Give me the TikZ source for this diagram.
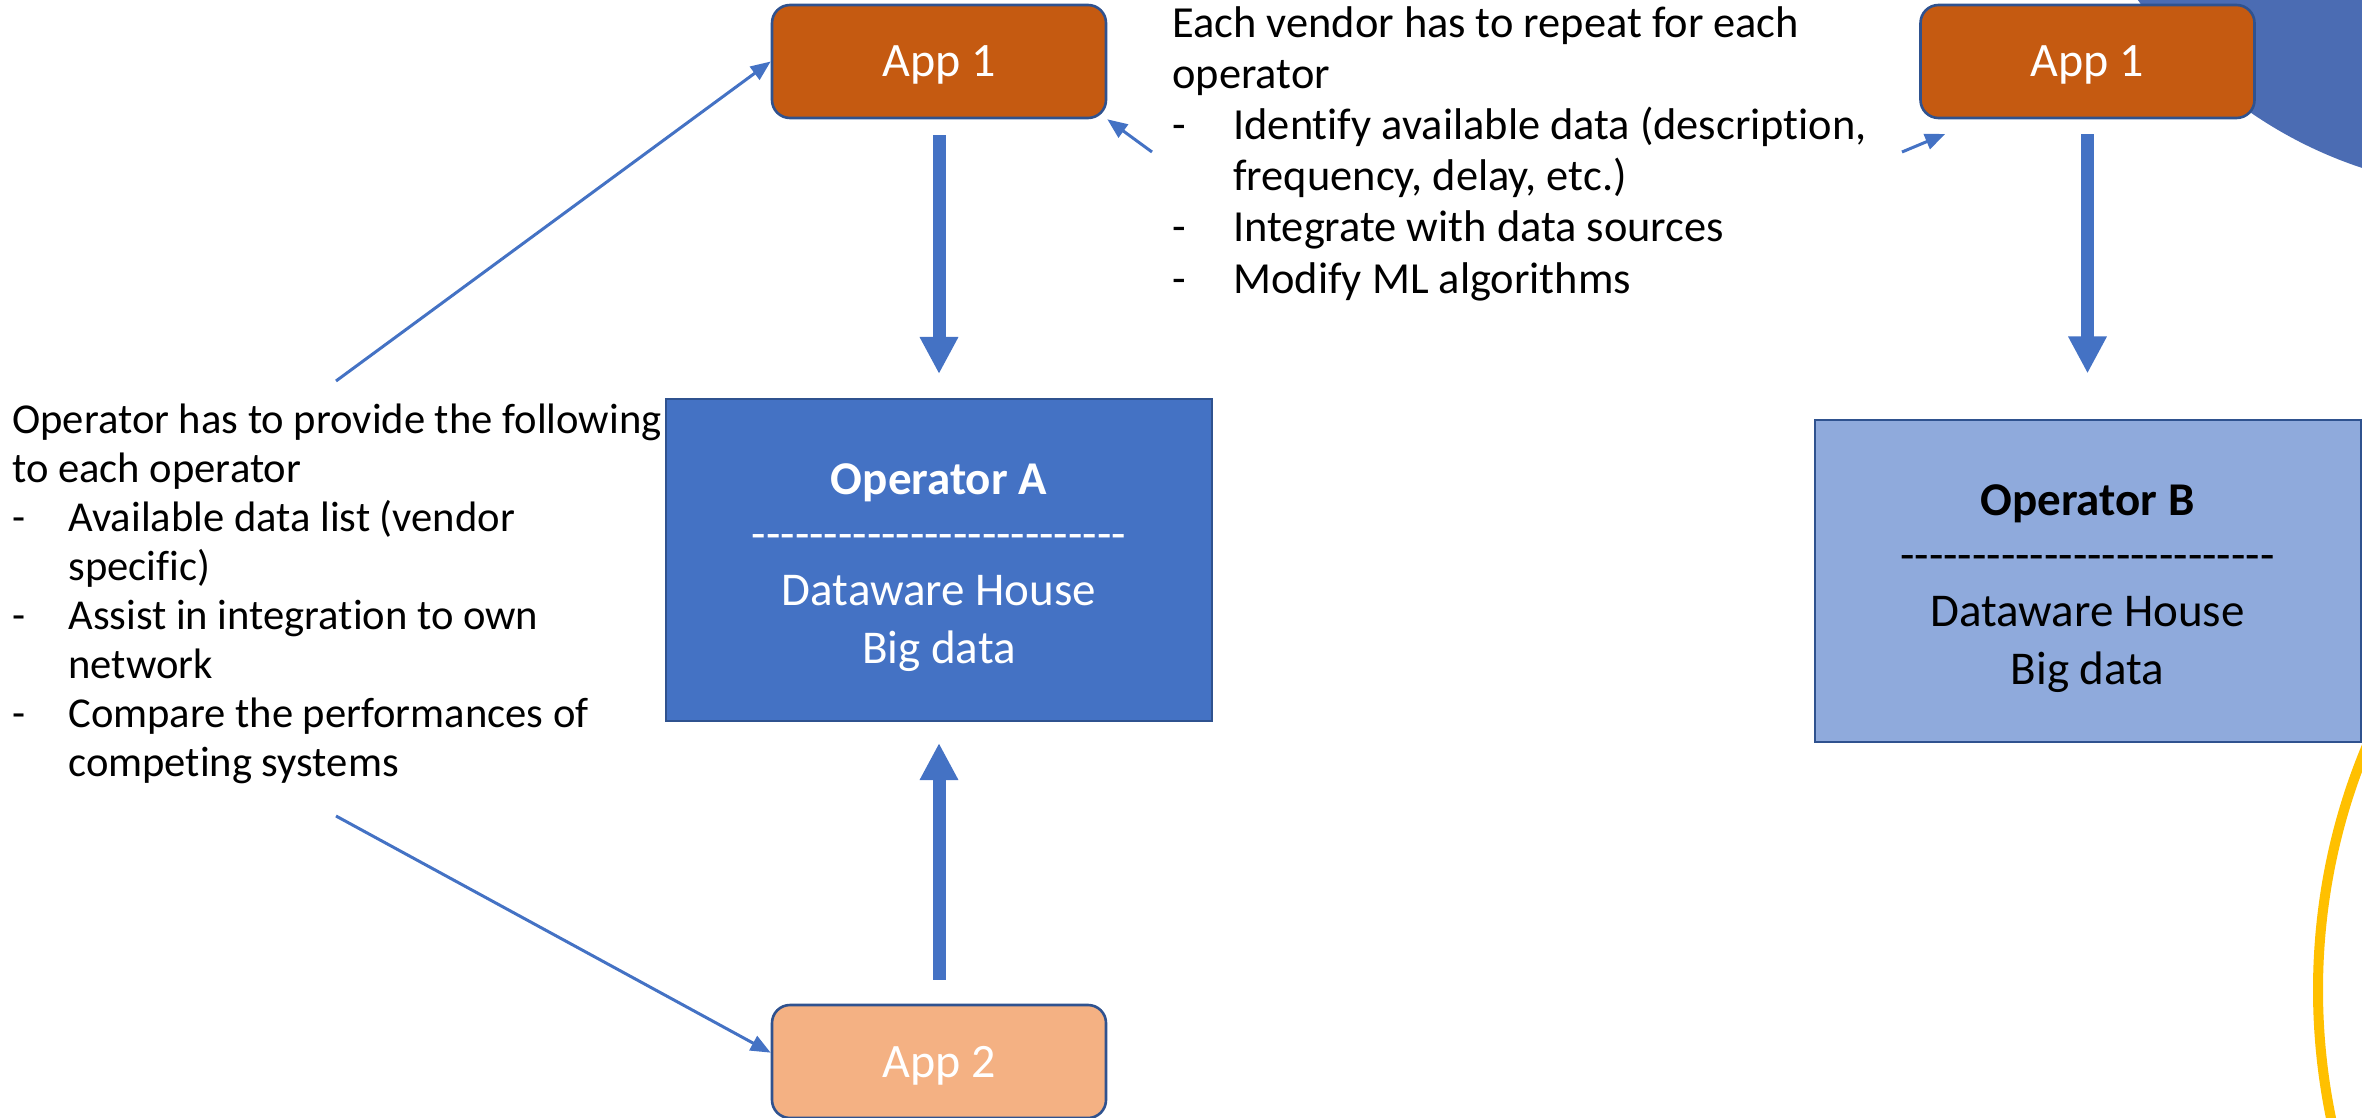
\documentclass[tikz,border=0pt]{standalone}
\usepackage{fontspec}
\setmainfont{Carlito}[Ligatures=NoCommon]
\usetikzlibrary{arrows.meta,calc}
\definecolor{appdark}{HTML}{C55A11}
\definecolor{applight}{HTML}{F4B183}
\definecolor{opblue}{HTML}{4472C4}
\definecolor{oplight}{HTML}{8FAADC}
\definecolor{edgeblue}{HTML}{2F528F}
\definecolor{circblue}{HTML}{4B6CB3}
\definecolor{gold}{HTML}{FFC000}
\newcommand{\dashrule}{\foreach\k in {1,...,26}{\mbox{-}}}
\begin{document}
\begin{tikzpicture}[x=0.5pt,y=-0.5pt,
  appbox/.style={draw=edgeblue, line width=1.3pt, rounded corners=9pt, minimum width=167pt, minimum height=56.5pt, inner sep=0pt, text=white, font=\fontsize{24}{28}\selectfont, text depth=0pt},
  opbox/.style={draw=edgeblue, line width=1pt, minimum width=273pt, minimum height=161pt, inner sep=0pt},
  boxtext/.style={anchor=base, inner sep=0pt, font=\fontsize{23.5}{28}\selectfont},
  sidetext/.style={anchor=base west, inner sep=0pt, font=\fontsize{21.3}{25}\selectfont},
  toptext/.style={anchor=base west, inner sep=0pt, font=\fontsize{22.2}{26}\selectfont},
  thinarrow/.style={draw=opblue, line width=1.5pt, -{Triangle[length=10pt,width=8pt]}},
  bigarrow/.style={draw=opblue, line width=6.5pt, -{Triangle[length=18.5pt,width=18pt]}}]
\useasboundingbox (0,0) rectangle (2362,1118);
\begin{scope}
\clip (0,0) rectangle (2362,1118);
\fill[circblue] (2500,-250) circle[radius=220pt];
\draw[gold, line width=5pt] (2950,990) circle[radius=316pt];
\end{scope}

% boxes
\node[appbox, fill=appdark] (app1L) at (939,61.5) {App 1};
\node[appbox, fill=appdark] (app1R) at (2087.5,61.5) {App 1};
\node[appbox, fill=applight] (app2) at (939,1061.5) {App 2};
\node[opbox, fill=opblue] (opA) at (939,560) {};
\node[opbox, fill=oplight] (opB) at (2087.5,580.5) {};

% box texts
\node[boxtext, text=white, font=\fontsize{23.5}{28}\selectfont\bfseries] (opAt1) at (939,494) {Operator A};
\node[boxtext, text=white] (opAt2) at (939,549) {\dashrule};
\node[boxtext, text=white] (opAt3) at (939,605) {Dataware House};
\node[boxtext, text=white] (opAt4) at (939,663) {Big data};
\node[boxtext, text=black, font=\fontsize{23.5}{28}\selectfont\bfseries] (opBt1) at (2087.5,515) {Operator B};
\node[boxtext, text=black] (opBt2) at (2087.5,570) {\dashrule};
\node[boxtext, text=black] (opBt3) at (2087.5,626) {Dataware House};
\node[boxtext, text=black] (opBt4) at (2087.5,684) {Big data};

% left text block
\node[sidetext] (l1) at (12,433) {Operator has to provide the following};
\node[sidetext] (l2) at (12,482) {to each operator};
\node[sidetext] (l3d) at (12,531) {-};
\node[sidetext] (l3) at (68,531) {Available data list (vendor};
\node[sidetext] (l4) at (68,580) {specific)};
\node[sidetext] (l5d) at (12,629) {-};
\node[sidetext] (l5) at (68,629) {Assist in integration to own};
\node[sidetext] (l6) at (68,678) {network};
\node[sidetext] (l7d) at (12,727) {-};
\node[sidetext] (l7) at (68,727) {Compare the performances of};
\node[sidetext] (l8) at (68,776) {competing systems};

% top text block
\node[toptext] (t1) at (1172,38) {Each vendor has to repeat for each};
\node[toptext] (t2) at (1172,89) {operator};
\node[toptext] (t3d) at (1172,140) {-};
\node[toptext] (t3) at (1233,140) {Identify available data (description,};
\node[toptext] (t4) at (1233,191) {frequency, delay, etc.)};
\node[toptext] (t5d) at (1172,242) {-};
\node[toptext] (t5) at (1233,242) {Integrate with data sources};
\node[toptext] (t6d) at (1172,293) {-};
\node[toptext] (t6) at (1233,293) {Modify ML algorithms};

% free ends of thin connectors
\coordinate (c1) at (336,381);
\coordinate (c2) at (336,816);
\coordinate (c3) at (1152,152);
\coordinate (c4) at (1902,152);

% thick arrows
\draw[bigarrow, shorten <=8pt, shorten >=12pt] (app1L.south) -- (opA.north);
\draw[bigarrow, shorten <=12pt, shorten >=10.5pt] (app2.north) -- (opA.south);
\draw[bigarrow, shorten <=7.5pt, shorten >=22.5pt] (app1R.south) -- (opB.north);

% thin arrows
\draw[thinarrow] (c1) -- (app1L.west);
\draw[thinarrow] (c2) -- (app2.177);
\draw[thinarrow] (c3) -- (app1L.south east);
\draw[thinarrow, shorten >=19pt] (c4) -- ([xshift=30.5pt]app1R.south west);
\end{tikzpicture}
\end{document}
